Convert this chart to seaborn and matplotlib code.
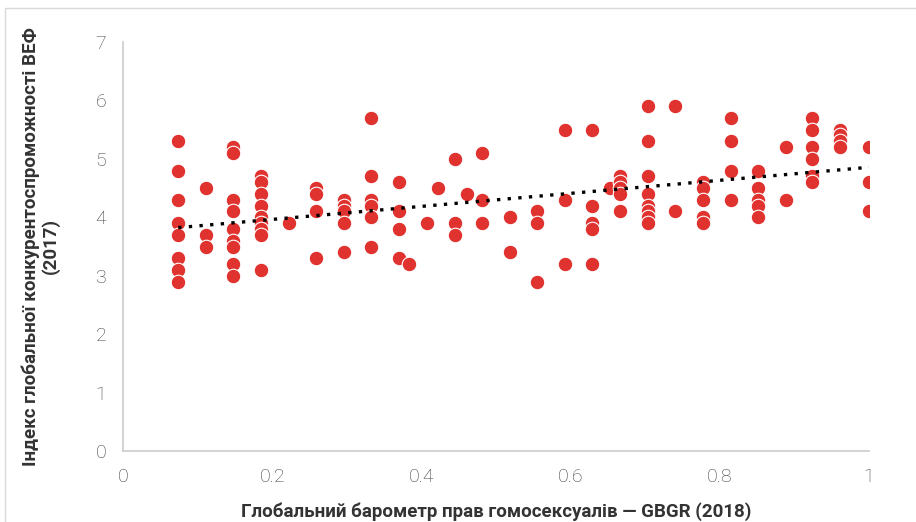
import numpy as np
import pandas as pd
import matplotlib.pyplot as plt
import seaborn as sns
from matplotlib.patches import Rectangle

# x columns (GBGR score) and the competitiveness values
x_cols = [0.074, 0.111, 0.148, 0.185, 0.222, 0.259, 0.296, 0.333, 0.370, 0.383,
          0.407, 0.422, 0.445, 0.461, 0.481, 0.519, 0.555, 0.592, 0.629, 0.653,
          0.666, 0.704, 0.740, 0.777, 0.815, 0.851, 0.889, 0.924, 0.961, 1.0]
y_cols = [
    [5.3, 4.8, 4.3, 3.9, 3.7, 3.3, 3.1, 2.9],
    [4.5, 3.7, 3.5],
    [5.2, 5.1, 4.3, 4.1, 3.8, 3.6, 3.5, 3.2, 3.0],
    [4.7, 4.6, 4.4, 4.2, 4.0, 3.9, 3.8, 3.7, 3.1],
    [3.9],
    [4.5, 4.4, 4.1, 3.3],
    [4.3, 4.2, 4.1, 3.9, 3.4],
    [5.7, 4.7, 4.3, 4.2, 4.0, 3.5],
    [4.6, 4.1, 3.8, 3.3],
    [3.2],
    [3.9],
    [4.5],
    [5.0, 3.9, 3.7],
    [4.4],
    [5.1, 4.3, 3.9],
    [4.0, 3.4],
    [4.1, 3.9, 2.9],
    [5.5, 4.3, 3.2],
    [5.5, 4.2, 3.9, 3.8, 3.2],
    [4.5],
    [4.7, 4.6, 4.5, 4.4, 4.1],
    [5.9, 5.3, 4.7, 4.4, 4.2, 4.1, 4.0, 3.9],
    [5.9, 4.1],
    [4.6, 4.5, 4.3, 4.0, 3.9],
    [5.7, 5.3, 4.8, 4.3],
    [4.8, 4.5, 4.3, 4.2, 4.0],
    [5.2, 4.3],
    [5.7, 5.5, 5.2, 5.0, 4.7, 4.6],
    [5.5, 5.4, 5.3, 5.2],
    [5.2, 4.6, 4.1],
]

gbgr = [x for x, ys in zip(x_cols, y_cols) for _ in ys]
wef = [y for ys in y_cols for y in ys]
df = pd.DataFrame({'gbgr': gbgr, 'wef': wef})

sns.set_style('white')
plt.rcParams['font.family'] = ['Roboto', 'DejaVu Sans']

fig = plt.figure(figsize=(9.16, 5.22), dpi=100)
ax = fig.add_axes([123 / 916, 1 - 451 / 522, 746 / 916, 409 / 522])

sns.scatterplot(data=df, x='gbgr', y='wef', ax=ax, color='#E0322E', s=110,
                edgecolor='white', linewidth=0.8, zorder=3)
sns.regplot(data=df, x='gbgr', y='wef', ax=ax, scatter=False, ci=None,
            line_kws={'color': 'black', 'linestyle': (0, (1, 2.2)), 'linewidth': 2.4, 'zorder': 4})

ax.set_xlim(0, 1)
ax.set_ylim(0, 7)
ax.set_xticks([0, 0.2, 0.4, 0.6, 0.8, 1])
ax.set_xticklabels(['0', '0.2', '0.4', '0.6', '0.8', '1'])
ax.set_yticks(range(8))
ax.tick_params(labelsize=14, colors='#404040', length=0, pad=12)
for lab in ax.get_xticklabels() + ax.get_yticklabels():
    lab.set_fontweight('light')

for s in ['top', 'right']:
    ax.spines[s].set_visible(False)
for s in ['left', 'bottom']:
    ax.spines[s].set_color('#cccccc')
    ax.spines[s].set_linewidth(1.2)

ax.set_xlabel('Глобальний барометр прав гомосексуалів — GBGR (2018)',
              fontsize=13.5, fontweight='bold', color='#333333', labelpad=12)
ax.set_ylabel('Індекс глобальної конкурентоспроможності ВЕФ\n(2017)',
              fontsize=13.5, fontweight='bold', color='#333333', labelpad=26,
              linespacing=1.05)

fig.patches.append(Rectangle((5 / 916, -0.01), 1, 1 - 8 / 522 + 0.01, transform=fig.transFigure,
                             fill=False, edgecolor='#d9d9d9', linewidth=1))

fig.savefig('out.png', dpi=100)
